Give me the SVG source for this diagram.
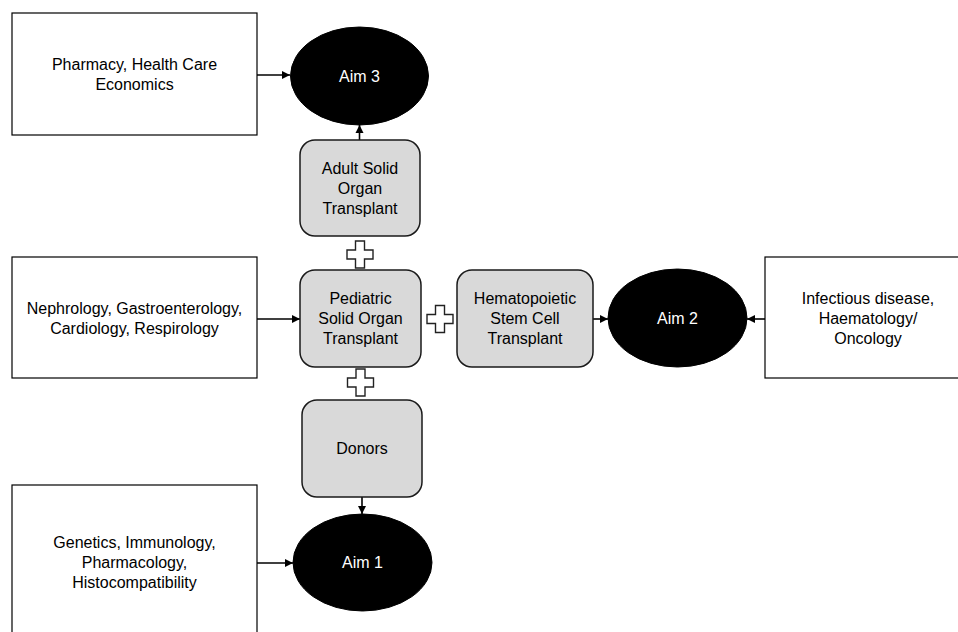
<svg xmlns="http://www.w3.org/2000/svg" width="958" height="632" viewBox="0 0 958 632">
<defs>
<style>
.box{fill:#ffffff;stroke:#000000;stroke-width:1.2}
.rbox{fill:#d9d9d9;stroke:#1a1a1a;stroke-width:1.5}
.aim{fill:#000000;stroke:#000000;stroke-width:1}
.plus{fill:#ffffff;stroke:#222222;stroke-width:1.4;stroke-linejoin:miter}
.t{font-family:"Liberation Sans",Arial,sans-serif;font-size:16px;fill:#000000;text-anchor:middle}
.tw{font-family:"Liberation Sans",Arial,sans-serif;font-size:16px;fill:#ffffff;text-anchor:middle}
.conn{stroke:#000000;stroke-width:1.6;fill:none;marker-end:url(#ah)}
</style>
<marker id="ah" markerWidth="9" markerHeight="9" refX="8" refY="4.5" orient="auto" markerUnits="userSpaceOnUse">
<path d="M0,0.5 L8,4.5 L0,8.5 Z" fill="#000000"/>
</marker>
<polygon id="plusShape" class="plus" points="-4.5,-13.5 4.5,-13.5 4.5,-4.5 13,-4.5 13,4.5 4.5,4.5 4.5,13.5 -4.5,13.5 -4.5,4.5 -13,4.5 -13,-4.5 -4.5,-4.5"/>
</defs>
<rect width="958" height="632" fill="#ffffff"/>

<g id="connectors">
<line class="conn" x1="257" y1="75" x2="290" y2="75"/>
<line class="conn" x1="359.5" y1="140" x2="359.5" y2="125"/>
<line class="conn" x1="257" y1="319" x2="300" y2="319"/>
<line class="conn" x1="593" y1="319" x2="608" y2="319"/>
<line class="conn" x1="765" y1="319" x2="747" y2="319"/>
<line class="conn" x1="362" y1="497" x2="362" y2="514"/>
<line class="conn" x1="257" y1="563" x2="293" y2="563"/>
</g>

<g id="pharmacy">
<rect class="box" x="12" y="13" width="245" height="122"/>
<text class="t" x="134.5" y="69.5">Pharmacy, Health Care</text>
<text class="t" x="134.5" y="89.5">Economics</text>
</g>

<g id="aim3">
<ellipse class="aim" cx="359.5" cy="76" rx="69" ry="49"/>
<text class="tw" x="359.5" y="81.5">Aim 3</text>
</g>

<g id="adult">
<rect class="rbox" x="300" y="140" width="120" height="96" rx="15" ry="15"/>
<text class="t" x="360" y="173.5">Adult Solid</text>
<text class="t" x="360" y="193.5">Organ</text>
<text class="t" x="360" y="213.5">Transplant</text>
</g>

<g id="plus1"><use href="#plusShape" x="360" y="254.5"/></g>

<g id="nephrology">
<rect class="box" x="12" y="257" width="245" height="121"/>
<text class="t" x="134.5" y="314">Nephrology, Gastroenterology,</text>
<text class="t" x="134.5" y="334">Cardiology, Respirology</text>
</g>

<g id="pediatric">
<rect class="rbox" x="300" y="270" width="121" height="97" rx="15" ry="15"/>
<text class="t" x="360.5" y="304">Pediatric</text>
<text class="t" x="360.5" y="324">Solid Organ</text>
<text class="t" x="360.5" y="344">Transplant</text>
</g>

<g id="plus2"><use href="#plusShape" x="440" y="319"/></g>

<g id="hematopoietic">
<rect class="rbox" x="457" y="270" width="136" height="97" rx="15" ry="15"/>
<text class="t" x="525" y="304">Hematopoietic</text>
<text class="t" x="525" y="324">Stem Cell</text>
<text class="t" x="525" y="344">Transplant</text>
</g>

<g id="aim2">
<ellipse class="aim" cx="677.5" cy="318" rx="69.5" ry="49"/>
<text class="tw" x="677.5" y="323.5">Aim 2</text>
</g>

<g id="infectious">
<rect class="box" x="765" y="257" width="206" height="121"/>
<text class="t" x="868" y="303.5">Infectious disease,</text>
<text class="t" x="868" y="323.5">Haematology/</text>
<text class="t" x="868" y="343.5">Oncology</text>
</g>

<g id="plus3"><use href="#plusShape" x="360.5" y="382.5"/></g>

<g id="donors">
<rect class="rbox" x="302" y="400" width="120" height="97" rx="15" ry="15"/>
<text class="t" x="362" y="454">Donors</text>
</g>

<g id="aim1">
<ellipse class="aim" cx="362.5" cy="562.5" rx="69.5" ry="48.5"/>
<text class="tw" x="362.5" y="568">Aim 1</text>
</g>

<g id="genetics">
<rect class="box" x="12" y="485" width="245" height="160"/>
<text class="t" x="134.5" y="547.5">Genetics, Immunology,</text>
<text class="t" x="134.5" y="567.5">Pharmacology,</text>
<text class="t" x="134.5" y="587.5">Histocompatibility</text>
</g>
</svg>
